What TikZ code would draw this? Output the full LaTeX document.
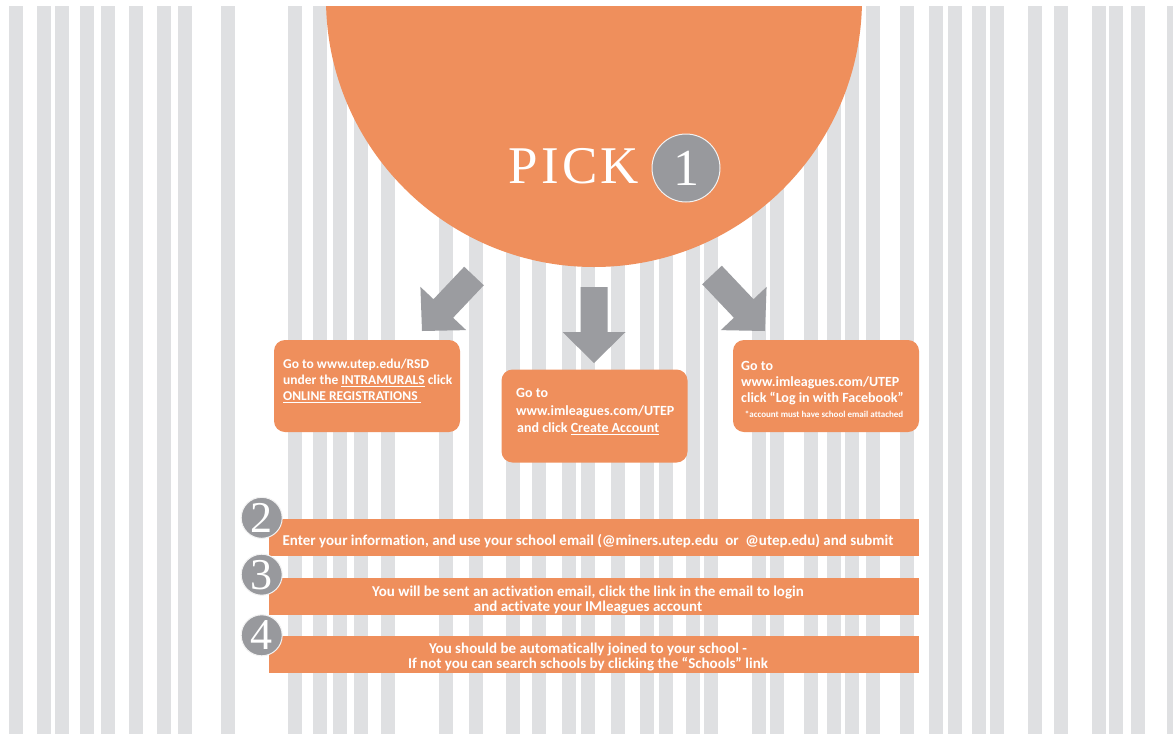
\documentclass[tikz,border=0pt]{standalone}
\usepackage{fontspec}
\newfontfamily\cardfont[Ligatures=NoCommon]{Carlito}
\newfontfamily\pickfont{Liberation Serif}
\newfontfamily\pickwide[LetterSpace=6]{Liberation Serif}
\usepackage{tikz}
\usetikzlibrary{calc}
\definecolor{peach}{HTML}{EF8F5C}
\definecolor{arrowgray}{HTML}{9B9CA0}
\definecolor{discgray}{HTML}{98999D}
\definecolor{stripegray}{HTML}{DFE0E2}
\tikzset{
  stripeline/.style={fill=stripegray},
  bigarrow/.style={fill=arrowgray},
  card/.style={fill=peach, rounded corners=11pt, minimum width=186pt, minimum height=92pt, inner sep=0pt},
  cardtext/.style={text=white, font=\cardfont\bfseries\fontsize{13.5}{16}\selectfont, align=left, anchor=west, inner sep=0pt},
  stepbar/.style={fill=peach, minimum width=650pt, minimum height=37pt, inner sep=0pt},
  steptext/.style={text=white, font=\cardfont\bfseries\fontsize{15}{14.8}\selectfont, align=center, inner sep=0pt},
  numdisc/.style={circle, fill=discgray, draw=white!90!gray, line width=1pt, inner sep=0pt, minimum size=41pt, text=white, font=\pickfont\fontsize{44}{44}\selectfont}
}
\newcommand{\blockarrow}[2]{%
  \coordinate (#1h) at ($(#2)!31pt!(#1)$);
  \fill[bigarrow] ($(#1)!13.5pt!-90:(#2)$) -- ($(#1h)!13.5pt!90:(#1)$)
    -- ($(#1h)!31.5pt!90:(#1)$) -- (#2) -- ($(#1h)!31.5pt!-90:(#1)$)
    -- ($(#1h)!13.5pt!-90:(#1)$) -- ($(#1)!13.5pt!90:(#2)$) -- cycle;
}

\begin{document}
\begin{tikzpicture}[x=1pt,y=-1pt]
  \useasboundingbox (0,0) rectangle (1173,734);
  \fill[white] (0,0) rectangle (1173,734);
  \foreach \sx in {9,37,55,80,101,129,157,178,221,288,313,333,354,381,439,469,506,532,562,581,611,640,659,686,704,752,770,804,827,845,866,900,929,948,972,990,1028,1054,1092,1109,1131,1167}
    \fill[stripeline] (\sx,6) rectangle ++(13.5,728);

  \begin{scope}
    \clip (0,6) rectangle (1173,734);
    \node[circle, fill=peach, minimum size=536pt, inner sep=0pt] (disc) at (594,-1) {};
  \end{scope}
  \node[anchor=base, text=white, inner sep=0pt, font=\pickwide\fontsize{53}{53}\selectfont] (pick) at (574,183) {PICK};
  \node[numdisc, minimum size=68pt, font=\pickfont\fontsize{52}{52}\selectfont] (one) at (686,168) {1};

  \coordinate (la0) at (474,276);
  \coordinate (la1) at (422,331);
  \coordinate (ma0) at (594,287);
  \coordinate (ma1) at (594,363);
  \coordinate (ra0) at (712,275);
  \coordinate (ra1) at (765,331);
  \blockarrow{la0}{la1}
  \blockarrow{ma0}{ma1}
  \blockarrow{ra0}{ra1}

  \node[card] (rsd) at (367,386) {};
  \node[cardtext] (rsdtext) at (283,381) {Go to www.utep.edu/RSD\\under the \underline{INTRAMURALS} click\\\underline{ONLINE REGISTRATIONS\ }};
  \node[card, minimum height=93pt] (iml) at (594.5,416) {};
  \node[cardtext, font=\cardfont\bfseries\fontsize{14}{17.5}\selectfont] (imltext) at (516,411.5) {Go to\\www.imleagues.com/UTEP\\\hspace{1pt}and click \underline{Create Account}};
  \node[card] (fb) at (826,386) {};
  \node[cardtext, font=\cardfont\bfseries\fontsize{14}{16.3}\selectfont] (fbtext) at (741,383) {Go to\\www.imleagues.com/UTEP\\click “Log in with Facebook”};
  \node[text=white, inner sep=0pt, font=\cardfont\bfseries\fontsize{9}{9}\selectfont] (fbnote) at (824,414) {*account must have school email attached};

  \node[stepbar] (bar2) at (594,537.7) {};
  \node[steptext] (step2) at (588,541) {Enter your information, and use your school email (@miners.utep.edu\ \ or\ \ @utep.edu) and submit};
  \node[stepbar] (bar3) at (594,596.7) {};
  \node[steptext] (step3) at (588,600) {You will be sent an activation email, click the link in the email to login\\and activate your IMleagues account};
  \node[stepbar] (bar4) at (594,654.5) {};
  \node[steptext] (step4) at (588,657) {You should be automatically joined to your school -\\If not you can search schools by clicking the “Schools” link};
  \node[numdisc] (n2) at (261.7,517.8) {2};
  \node[numdisc] (n3) at (261.7,574.7) {3};
  \node[numdisc] (n4) at (261.7,635.3) {4};
\end{tikzpicture}
\end{document}
